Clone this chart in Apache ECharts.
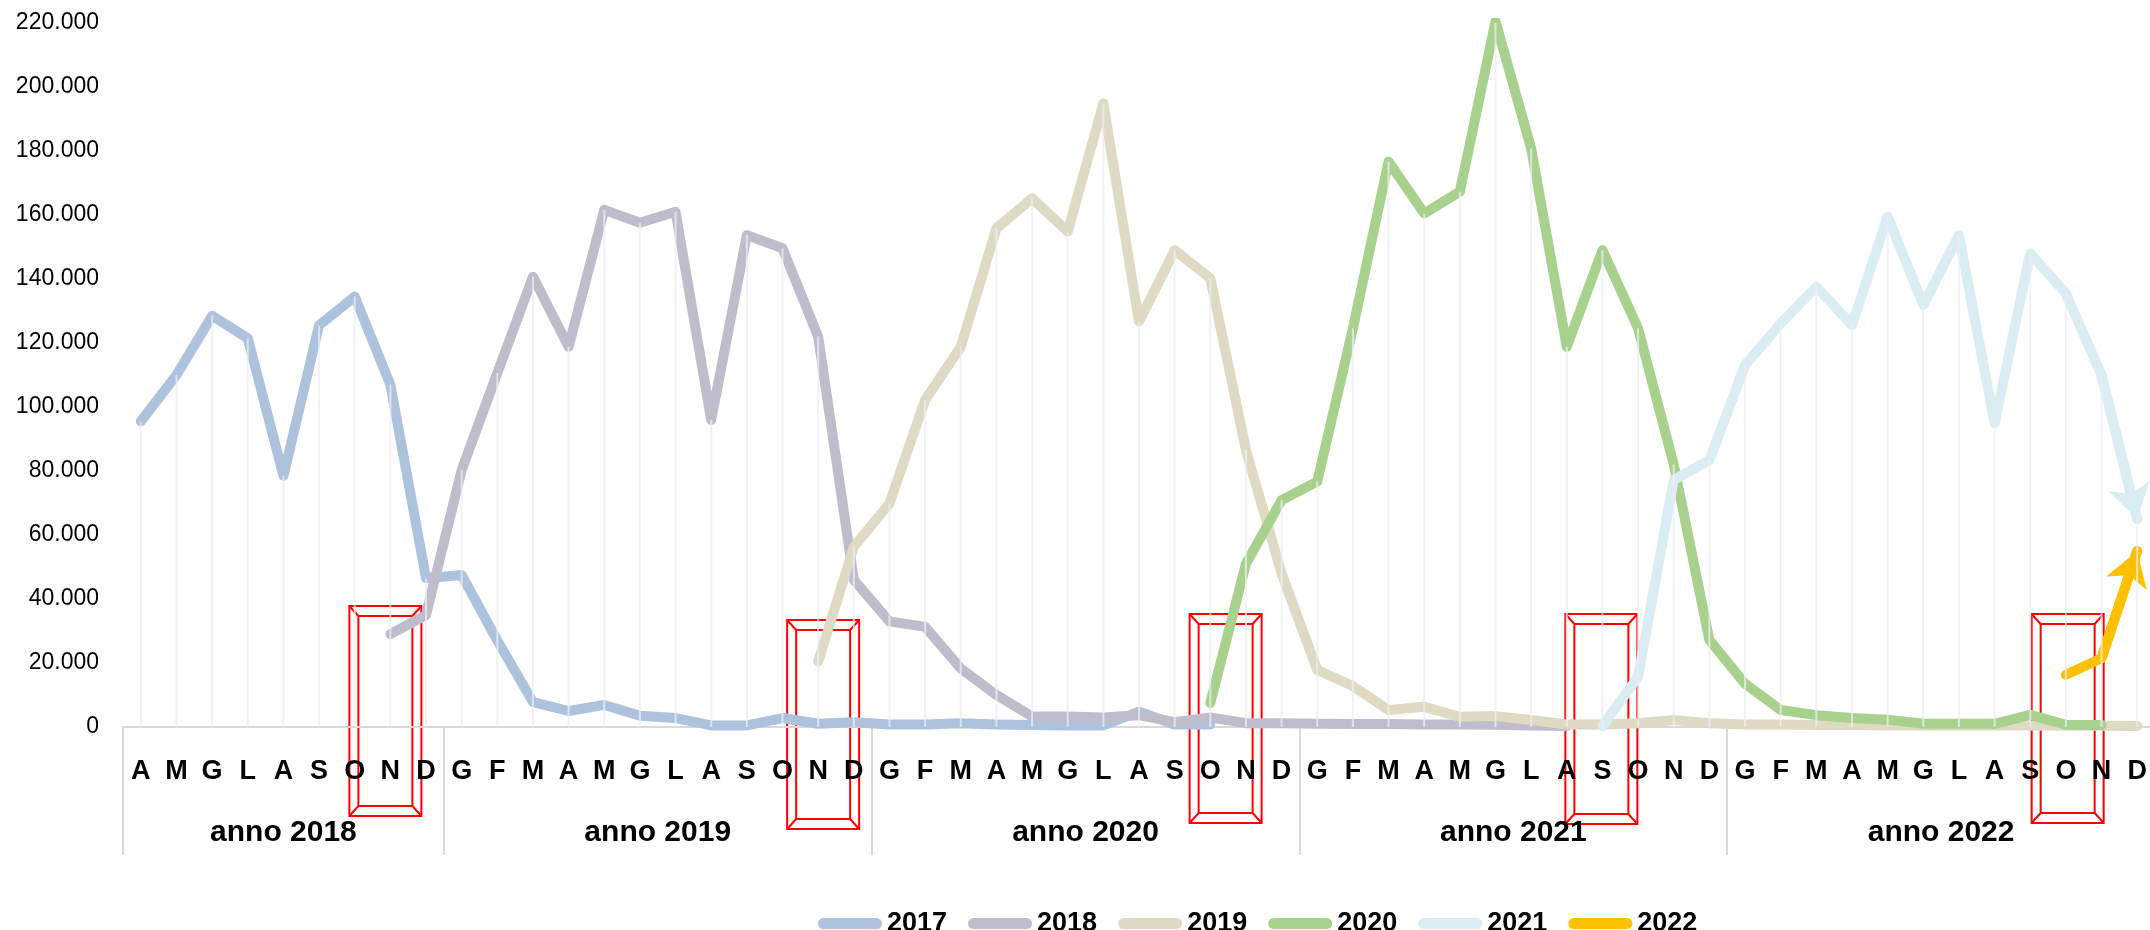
<!doctype html>
<html lang="it">
<head>
<meta charset="utf-8">
<title>Andamento mensile per coorte</title>
<script src="https://cdn.jsdelivr.net/npm/echarts@6.0.0/dist/echarts.min.js"></script>
<style>
  html, body { margin: 0; padding: 0; background: #fff; }
  #chart { width: 2150px; height: 930px; }
</style>
</head>
<body>
<div id="chart"></div>
<script>
// month tick labels, Apr 2018 .. Dec 2022
var months = [
  'A','M','G','L','A','S','O','N','D',
  'G','F','M','A','M','G','L','A','S','O','N','D',
  'G','F','M','A','M','G','L','A','S','O','N','D',
  'G','F','M','A','M','G','L','A','S','O','N','D',
  'G','F','M','A','M','G','L','A','S','O','N','D'
];
var yearNames = ['anno 2018', 'anno 2019', 'anno 2020', 'anno 2021', 'anno 2022'];
var yearLengths = [9, 12, 12, 12, 12];

var seriesNames = ['2017', '2018', '2019', '2020', '2021', '2022'];
var seriesColors = ['#adc3dd', '#bfbdcc', '#dedac4', '#a9d18e', '#daedf3', '#ffc000'];
// index of the first month of each series
var seriesStart = [0, 7, 19, 30, 41, 54];

var v2017 = [95500, 110000, 128500, 121500, 78500, 125500, 134500, 107000, 46500,
  47500, 27000, 7800, 5000, 6900, 3500, 2800, 500, 500, 2800, 1000, 1500,
  800, 800, 1200, 800, 600, 500, 500, 4800, 800, 800];
var v2018 = [29000, 35000,
  80300, 110600, 140700, 118800, 161600, 157600, 161000, 96000, 153700, 149600, 122000, 46000,
  33000, 31300, 18300, 10000, 3300, 3300, 3000, 3700, 1500, 3000, 1200, 1200,
  1000, 900, 900, 800, 800, 700, 500, 300];
var v2019 = [20500, 56300,
  69900, 102200, 118800, 155800, 165200, 154800, 194900, 126700, 149000, 140200, 86600, 48000,
  17800, 12800, 5300, 6300, 3200, 3400, 2200, 800, 800, 1200, 2200, 1200,
  800, 800, 600, 600, 500, 500, 500, 500, 500, 400, 400, 300];
var v2020 = [7500, 51000, 70900,
  76700, 124600, 176700, 160500, 167300, 220500, 180800, 118800, 149000, 124600, 82000, 27200,
  13500, 5300, 3700, 2800, 2300, 1000, 1000, 1000, 3800, 700, 600];
var v2021 = [300, 15700, 77200, 83400,
  113100, 126100, 137600, 125600, 159500, 131900, 153700, 94900, 148000, 135500, 110000, 65000];
var v2022 = [16300, 21500, 55000];

var seriesValues = [v2017, v2018, v2019, v2020, v2021, v2022];
// series ending with an arrow
var arrowSeries = ['2021', '2022'];

// red frames: centre (in month index units), top and bottom (px)
var boxes = [
  [6.86, 606, 816],
  [19.14, 620, 829],
  [30.43, 614, 823],
  [40.97, 614, 824],
  [54.05, 614, 823]
];

var FONT = '"Liberation Sans", Arial, sans-serif';

function pad(start, vals) {
  var out = [];
  for (var i = 0; i < months.length; i++) {
    var k = i - start;
    out.push(k >= 0 && k < vals.length ? vals[k] : null);
  }
  return out;
}

var seriesData = seriesValues.map(function (v, i) { return pad(seriesStart[i], v); });

// drop lines: from the highest point of each month down to the axis
var dropValues = months.map(function (m, i) {
  var mx = 0;
  seriesData.forEach(function (d) { if (d[i] != null && d[i] > mx) mx = d[i]; });
  return mx;
});

// year group boundaries and centres on the helper value axis
var yearBounds = [-0.5];
var yearCentres = [];
var pos = 0;
yearLengths.forEach(function (n) {
  yearCentres.push(pos + (n - 1) / 2);
  pos += n;
  yearBounds.push(pos - 0.5);
});

function fmtIt(v) {
  return String(v).replace(/\B(?=(\d{3})+(?!\d))/g, '.');
}

var series = [];

seriesNames.forEach(function (name, i) {
  var s = {
    name: name,
    type: 'line',
    data: seriesData[i],
    color: seriesColors[i],
    symbol: 'none',
    connectNulls: false,
    silent: true,
    z: 2 + i,
    lineStyle: { width: 10, color: seriesColors[i], cap: 'round', join: 'round' }
  };
  if (arrowSeries.indexOf(name) >= 0) {
    var vals = seriesData[i];
    var last = vals.length - 1;
    s.markLine = {
      silent: true,
      symbol: ['none', 'arrow'],
      symbolSize: [32, 34],
      label: { show: false },
      lineStyle: { width: 10, color: seriesColors[i], type: 'solid', cap: 'round' },
      data: [[{ coord: [last - 1, vals[last - 1]] }, { coord: [last, vals[last]] }]]
    };
  }
  series.push(s);
});

series.push({
  name: 'drop',
  type: 'bar',
  data: dropValues,
  barWidth: 2,
  silent: true,
  z: 10,
  itemStyle: { color: 'rgba(236,238,246,0.75)' }
});

var chart = echarts.init(document.getElementById('chart'), null, { renderer: 'canvas' });

var option = {
  animation: false,
  backgroundColor: '#ffffff',
  textStyle: { fontFamily: FONT },
  grid: { left: 123, right: -5, top: 23, bottom: 203, outerBoundsMode: 'none' },
  legend: {
    data: seriesNames,
    left: 813,
    top: 905,
    itemWidth: 64,
    itemHeight: 11,
    itemGap: 21,
    icon: 'path://M5.5,0 L58.5,0 A5.5,5.5 0 0 1 58.5,11 L5.5,11 A5.5,5.5 0 0 1 5.5,0 Z',
    textStyle: { fontFamily: FONT, fontSize: 27, fontWeight: 'bold', color: '#000' }
  },
  xAxis: [{
    type: 'category',
    data: months,
    boundaryGap: true,
    axisLine: { lineStyle: { color: '#d9d9d9', width: 2 } },
    axisTick: { show: false },
    axisLabel: { interval: 0, margin: 31, fontFamily: FONT, fontSize: 27, fontWeight: 'bold', color: '#000' },
    splitLine: { show: false }
  }, {
    type: 'value',
    position: 'bottom',
    offset: 0,
    min: -0.5,
    max: 56.5,
    axisLine: { show: false },
    splitLine: { show: false },
    axisTick: {
      show: true,
      customValues: yearBounds,
      length: 128,
      lineStyle: { color: '#d9d9d9', width: 2 }
    },
    axisLabel: {
      customValues: yearCentres,
      margin: 91,
      fontFamily: FONT,
      fontSize: 30,
      fontWeight: 'bold',
      color: '#000',
      formatter: function (v) {
        var k = yearCentres.indexOf(v);
        return k >= 0 ? yearNames[k] : '';
      }
    }
  }],
  yAxis: {
    type: 'value',
    min: 0,
    max: 220000,
    interval: 20000,
    axisLine: { show: false },
    axisTick: { show: false },
    splitLine: { show: false },
    axisLabel: { margin: 24, fontFamily: FONT, fontSize: 23, color: '#000', formatter: fmtIt }
  },
  series: series
};

chart.setOption(option);

function frame(b) {
  var xc = chart.convertToPixel({ xAxisIndex: 1 }, b[0]);
  var w = 72, ix = 9, iy = 10;
  var x0 = xc - w / 2, x1 = xc + w / 2, y0 = b[1], y1 = b[2];
  var st = { stroke: '#ff0000', lineWidth: 2, fill: 'none' };
  return {
    type: 'group',
    silent: true,
    z: 50,
    children: [
      { type: 'rect', shape: { x: x0, y: y0, width: w, height: y1 - y0 }, style: st },
      { type: 'rect', shape: { x: x0 + ix, y: y0 + iy, width: w - 2 * ix, height: y1 - y0 - 2 * iy }, style: st },
      { type: 'line', shape: { x1: x0, y1: y0, x2: x0 + ix, y2: y0 + iy }, style: st },
      { type: 'line', shape: { x1: x1, y1: y0, x2: x1 - ix, y2: y0 + iy }, style: st },
      { type: 'line', shape: { x1: x0, y1: y1, x2: x0 + ix, y2: y1 - iy }, style: st },
      { type: 'line', shape: { x1: x1, y1: y1, x2: x1 - ix, y2: y1 - iy }, style: st }
    ]
  };
}

chart.setOption({ graphic: boxes.map(frame) });
</script>
</body>
</html>
